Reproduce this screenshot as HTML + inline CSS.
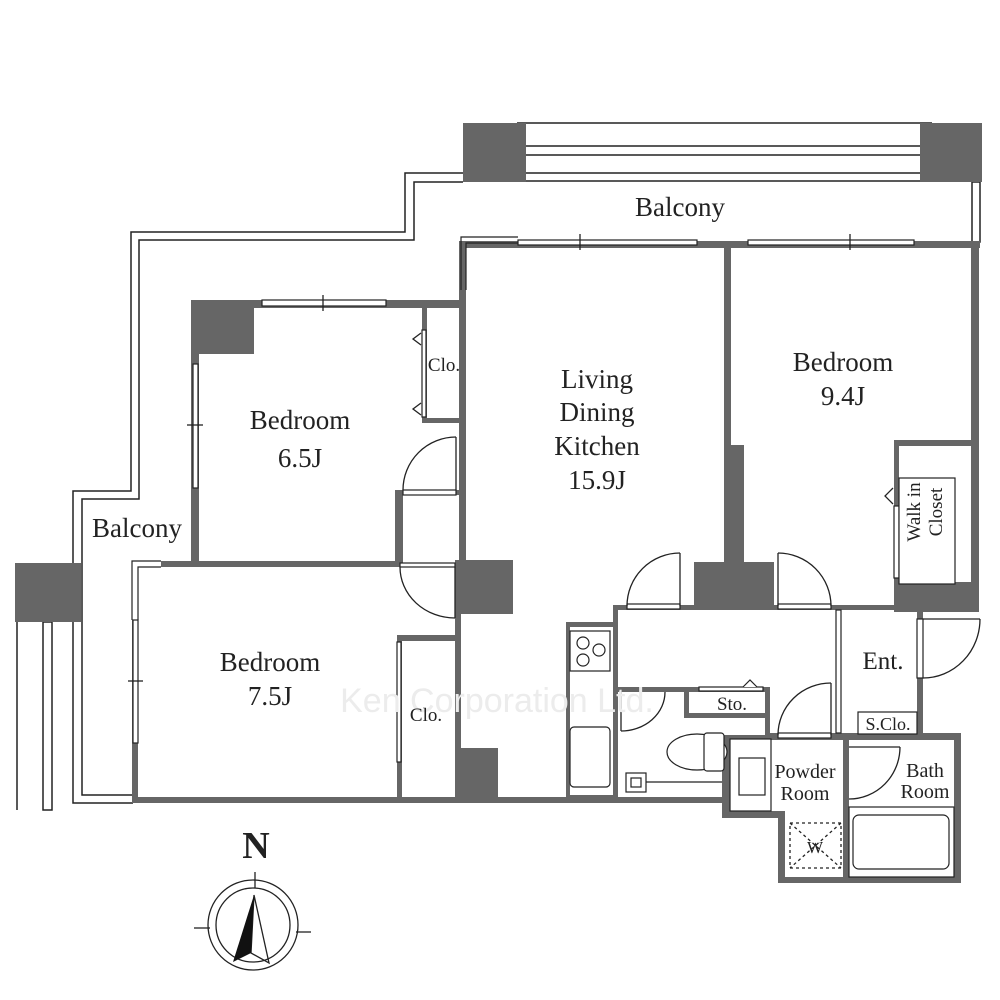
<!DOCTYPE html>
<html><head><meta charset="utf-8"><style>
html,body{margin:0;padding:0;background:#fff;}
svg{display:block}
text{font-family:"Liberation Serif",serif;fill:#222;}
</style></head><body>
<svg width="1000" height="1000" viewBox="0 0 1000 1000" xmlns="http://www.w3.org/2000/svg">
<rect width="1000" height="1000" fill="#fff"/>
<g fill="none" stroke="#222" stroke-width="1.5">
<polyline points="463,173 405,173 405,232 131,232 131,491 73,491 73,803 133,803"/>
<polyline points="463,182 414,182 414,240 139,240 139,499 82,499 82,795 133,795"/>
<line x1="517" y1="123" x2="932" y2="123"/>
<line x1="525" y1="146" x2="920" y2="146"/>
<line x1="525" y1="155" x2="920" y2="155"/>
<line x1="525" y1="173" x2="920" y2="173"/>
<line x1="525" y1="181" x2="920" y2="181"/>
<rect x="972" y="182" width="8" height="60"/>
<line x1="17" y1="622" x2="17" y2="810"/>
<rect x="43" y="622" width="9" height="188"/>
</g>
<g fill="#666">
<rect x="463" y="123" width="63" height="59"/>
<rect x="920" y="123" width="62" height="59"/>
<rect x="15" y="563" width="66" height="59"/>
<rect x="459" y="241" width="521" height="7"/>
<rect x="459" y="241" width="7" height="330"/>
<rect x="971" y="241" width="8" height="370"/>
<rect x="724" y="248" width="7" height="200"/>
<rect x="724" y="445" width="20" height="140"/>
<rect x="694" y="562" width="80" height="46"/>
<rect x="894" y="440" width="84" height="6"/>
<rect x="894" y="440" width="5" height="170"/>
<rect x="894" y="582" width="85" height="30"/>
<rect x="191" y="300" width="275" height="8"/>
<rect x="191" y="300" width="63" height="54"/>
<rect x="191" y="300" width="8" height="267"/>
<rect x="422" y="308" width="5" height="115"/>
<rect x="422" y="418" width="40" height="5"/>
<rect x="395" y="490" width="8" height="75"/>
<rect x="395" y="490" width="9" height="5"/>
<rect x="456" y="490" width="8" height="5"/>
<rect x="161" y="561" width="242" height="6"/>
<rect x="132" y="620" width="6" height="183"/>
<rect x="132" y="797" width="595" height="6"/>
<rect x="397" y="635" width="5" height="165"/>
<rect x="397" y="635" width="60" height="6"/>
<rect x="455" y="560" width="58" height="54"/>
<rect x="455" y="560" width="6" height="240"/>
<rect x="455" y="748" width="43" height="52"/>
<rect x="613" y="605" width="310" height="5"/>
<rect x="613" y="605" width="5" height="195"/>
<rect x="613" y="687" width="157" height="5"/>
<rect x="765" y="687" width="5" height="48"/>
<rect x="917" y="610" width="6" height="126"/>
<rect x="566" y="622" width="50" height="178"/>
<path d="M722,733 H961 V883 H778 V818 H722 Z"/>
</g>
<g fill="#fff">
<rect x="570" y="627" width="43" height="168"/>
<rect x="730" y="740" width="224" height="71"/>
<rect x="785" y="740" width="169" height="137"/>
<rect x="684" y="692" width="81" height="43"/>
</g>
<g fill="#666">
<rect x="684" y="692" width="5" height="21"/>
<rect x="684" y="713" width="81" height="5"/>
<rect x="843" y="740" width="6" height="140"/>
</g>
<g fill="#fff" stroke="#222" stroke-width="1.2">
<rect x="518" y="240" width="179" height="5"/>
<rect x="748" y="240" width="166" height="5"/>
<rect x="262" y="300" width="124" height="6"/>
<rect x="193" y="364" width="5" height="124"/>
<rect x="133" y="620" width="5" height="123"/>
<polyline points="461,290 461,237 518,237" fill="none"/>
<polyline points="466,290 466,243 518,243" fill="none"/>
<polyline points="132,620 132,561 161,561" fill="none"/>
<polyline points="138,620 138,567 161,567" fill="none"/>
<rect x="422" y="330" width="4" height="87"/>
<rect x="397" y="642" width="4" height="120"/>
<rect x="894" y="506" width="5" height="72"/>
<rect x="899" y="478" width="56" height="106"/>
<rect x="570" y="631" width="40" height="40"/>
<circle cx="583" cy="643" r="6"/><circle cx="599" cy="650" r="6"/><circle cx="583" cy="660" r="6"/>
<rect x="570" y="727" width="40" height="60" rx="4"/>
<ellipse cx="697" cy="752" rx="30" ry="18"/>
<rect x="704" y="733" width="20" height="38" rx="3"/>
<rect x="626" y="773" width="20" height="19"/>
<rect x="631" y="778" width="10" height="9"/>
<line x1="646" y1="782" x2="722" y2="782"/>
<rect x="699" y="687" width="64" height="4"/>
<polyline points="743,687 750,680 757,687"/>
<rect x="730" y="739" width="41" height="72"/>
<rect x="739" y="758" width="26" height="37"/>
<rect x="849" y="807" width="105" height="70"/>
<rect x="853" y="815" width="96" height="54" rx="6"/>
<rect x="858" y="712" width="59" height="22"/>
<rect x="403" y="490" width="53" height="5"/>
<rect x="400" y="563" width="55" height="4"/>
<rect x="627" y="604" width="53" height="5"/>
<rect x="778" y="604" width="53" height="5"/>
<rect x="778" y="733" width="53" height="5"/>
<rect x="917" y="619" width="6" height="59"/>
<rect x="836" y="610" width="5" height="123"/>
</g>
<g fill="none" stroke="#222" stroke-width="1.3">
<line x1="456" y1="437" x2="456" y2="490"/><path d="M456,437 A53,53 0 0 0 403,490"/>
<line x1="455" y1="567" x2="455" y2="618"/><path d="M400,567 A55,51 0 0 0 455,618"/>
<line x1="680" y1="553" x2="680" y2="606"/><path d="M680,553 A53,53 0 0 0 627,606"/>
<line x1="778" y1="553" x2="778" y2="606"/><path d="M778,553 A53,53 0 0 1 831,606"/>
<line x1="831" y1="683" x2="831" y2="735"/><path d="M831,683 A53,52 0 0 0 778,735"/>
<line x1="621" y1="692" x2="621" y2="731"/><path d="M621,731 A44,39 0 0 0 665,692"/>
<line x1="923" y1="619" x2="980" y2="619"/><path d="M923,678 A57,59 0 0 0 980,619"/>
<line x1="849" y1="747" x2="900" y2="747"/><path d="M900,747 A51,52 0 0 1 849,799"/>
<polyline points="421,333 413,339 421,345"/>
<polyline points="421,403 413,409 421,415"/>
<polyline points="893,488 885,496 893,504"/>
<line x1="580" y1="234" x2="580" y2="250"/><line x1="850" y1="234" x2="850" y2="250"/>
<line x1="323" y1="295" x2="323" y2="311"/><line x1="187" y1="425" x2="203" y2="425"/>
<line x1="128" y1="681" x2="143" y2="681"/>
<rect x="790" y="823" width="51" height="45" stroke-dasharray="3,3"/>
<line x1="790" y1="823" x2="841" y2="868" stroke-dasharray="3,3"/>
<line x1="841" y1="823" x2="790" y2="868" stroke-dasharray="3,3"/>
<circle cx="253" cy="925" r="45"/>
<circle cx="253" cy="925" r="37"/>
<line x1="255" y1="872" x2="255" y2="888"/>
<line x1="194" y1="928" x2="210" y2="928"/>
<line x1="296" y1="932" x2="311" y2="932"/>
<polygon points="254,895 269,963 251,953"/>
</g>
<polygon points="254,895 251,953 233,962" fill="#111"/>
<text x="256" y="858" font-size="38" font-weight="bold" text-anchor="middle">N</text>
<text x="497" y="712" font-size="34" text-anchor="middle" style="fill:#ececec;font-family:'Liberation Sans',sans-serif">Ken Corporation Ltd.</text>
<g font-size="27" text-anchor="middle">
<text x="680" y="216">Balcony</text>
<text x="137" y="537">Balcony</text>
<text x="300" y="429">Bedroom</text>
<text x="300" y="467">6.5J</text>
<text x="597" y="388">Living</text>
<text x="597" y="421">Dining</text>
<text x="597" y="455">Kitchen</text>
<text x="597" y="489">15.9J</text>
<text x="843" y="371">Bedroom</text>
<text x="843" y="405">9.4J</text>
<text x="270" y="671">Bedroom</text>
<text x="270" y="705">7.5J</text>
<text x="883" y="669" font-size="25">Ent.</text>
</g>
<g font-size="19" text-anchor="middle">
<text x="444" y="371">Clo.</text>
<text x="426" y="721">Clo.</text>
<text x="732" y="710">Sto.</text>
<text x="888" y="730" font-size="18">S.Clo.</text>
<text x="805" y="778" font-size="20">Powder</text>
<text x="805" y="800" font-size="20">Room</text>
<text x="925" y="777" font-size="20">Bath</text>
<text x="925" y="798" font-size="20">Room</text>
<text x="815" y="853" font-size="17">W</text>
<text transform="translate(927,512) rotate(-90)" text-anchor="middle" font-size="19"><tspan x="0" y="-7">Walk in</tspan><tspan x="0" y="15">Closet</tspan></text>
</g>
</svg>
</body></html>
